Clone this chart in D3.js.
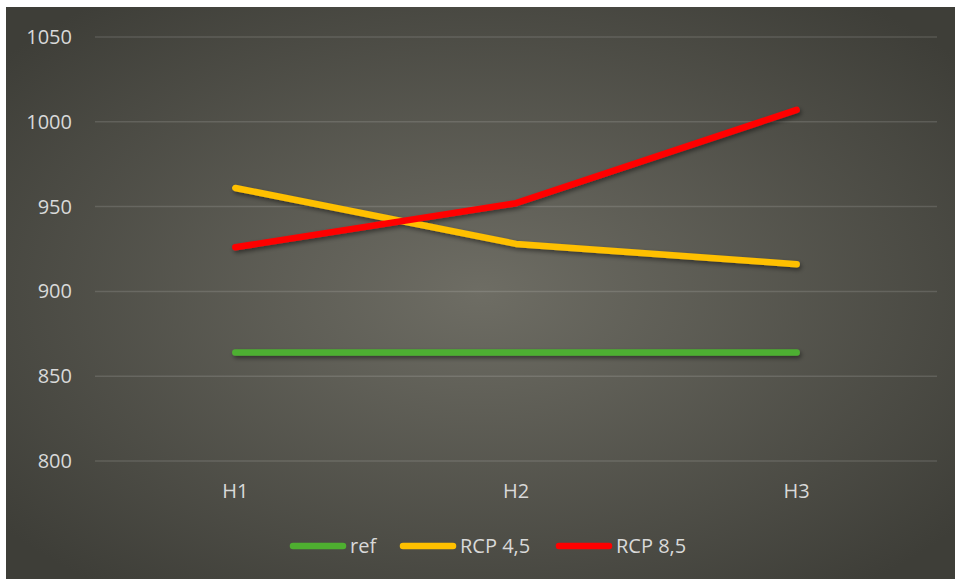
<!DOCTYPE html>
<html>
<head>
<meta charset="utf-8">
<script src="https://cdn.jsdelivr.net/npm/d3@7"></script>
<style>
  html, body { margin: 0; padding: 0; background: #ffffff; }
  svg { display: block; }
</style>
</head>
<body>
<svg id="chart" width="955" height="579"></svg>
<script>
// Categories and series
const categories = ["H1", "H2", "H3"];
const refValues = [864, 864, 864];
const rcp45Values = [961, 928, 916];
const rcp85Values = [926, 952, 1007];
const yTicks = [800, 850, 900, 950, 1000, 1050];
const seriesNames = ["ref", "RCP 4,5", "RCP 8,5"];
const seriesColors = ["#4EAF30", "#FFC000", "#FF0000"];

const series = [
  { name: seriesNames[0], color: seriesColors[0], values: refValues },
  { name: seriesNames[1], color: seriesColors[1], values: rcp45Values },
  { name: seriesNames[2], color: seriesColors[2], values: rcp85Values }
];

const FONT = "'Open Sans', 'Noto Sans', sans-serif";
const TEXT_COLOR = "#d9d9d9";
const FONT_SIZE = 20;

const svg = d3.select("#chart");
const W = 955, H = 579;
const frame = { x: 6, y: 7, w: W - 6, h: H - 7 };
const plot = { left: 95, right: 937, top: 37, bottom: 461 };

const defs = svg.append("defs");
const grad = defs.append("radialGradient")
  .attr("id", "bg")
  .attr("cx", "50%").attr("cy", "50%").attr("r", "65%");
grad.append("stop").attr("offset", "0%").attr("stop-color", "#6e6d64");
grad.append("stop").attr("offset", "100%").attr("stop-color", "#3e3e38");

const shadow = defs.append("filter").attr("id", "shadow")
  .attr("x", "-10%").attr("y", "-20%").attr("width", "120%").attr("height", "140%");
shadow.append("feDropShadow")
  .attr("dx", 1.5).attr("dy", 2.5).attr("stdDeviation", 2)
  .attr("flood-color", "#000").attr("flood-opacity", 0.45);

svg.append("rect")
  .attr("x", frame.x).attr("y", frame.y)
  .attr("width", frame.w).attr("height", frame.h)
  .attr("fill", "url(#bg)");

const x = d3.scaleBand().domain(categories).range([plot.left, plot.right]);
const y = d3.scaleLinear().domain([800, 1050]).range([plot.bottom, plot.top]);

// Gridlines
svg.append("g").selectAll("line").data(yTicks).join("line")
  .attr("x1", plot.left).attr("x2", plot.right)
  .attr("y1", d => y(d)).attr("y2", d => y(d))
  .attr("stroke", "#ffffff").attr("stroke-opacity", 0.13).attr("stroke-width", 1.5);

// Y axis labels
const yAxis = d3.axisLeft(y).tickValues(yTicks).tickFormat(d3.format("d"))
  .tickSize(0).tickPadding(0);
const gy = svg.append("g").attr("transform", "translate(72,0)").call(yAxis);
gy.select(".domain").remove();
gy.selectAll("text")
  .attr("fill", TEXT_COLOR)
  .attr("font-family", FONT)
  .attr("font-size", FONT_SIZE);

// X axis labels
const xAxis = d3.axisBottom(x).tickSize(0).tickPadding(0);
const gx = svg.append("g").attr("transform", `translate(0,${plot.bottom + 23})`).call(xAxis);
gx.select(".domain").remove();
gx.selectAll("text")
  .attr("fill", TEXT_COLOR)
  .attr("font-family", FONT)
  .attr("font-size", FONT_SIZE);

// Series lines
const line = d3.line()
  .x((d, i) => x(categories[i]) + x.bandwidth() / 2)
  .y(d => y(d));

svg.append("g").attr("filter", "url(#shadow)")
  .selectAll("path").data(series).join("path")
  .attr("d", d => line(d.values))
  .attr("fill", "none")
  .attr("stroke", d => d.color)
  .attr("stroke-width", 6.5)
  .attr("stroke-linecap", "round")
  .attr("stroke-linejoin", "round");

// Legend
const legendY = 546;
const legendX = [290, 400, 556];
const lg = svg.append("g");
series.forEach((s, i) => {
  const lx = legendX[i];
  lg.append("line")
    .attr("x1", lx + 3).attr("x2", lx + 53)
    .attr("y1", legendY).attr("y2", legendY)
    .attr("stroke", s.color).attr("stroke-width", 6.5)
    .attr("stroke-linecap", "round");
  lg.append("text")
    .attr("x", lx + 60).attr("y", legendY)
    .attr("dy", "0.35em")
    .attr("fill", TEXT_COLOR)
    .attr("font-family", FONT)
    .attr("font-size", FONT_SIZE)
    .text(s.name);
});
</script>
</body>
</html>
